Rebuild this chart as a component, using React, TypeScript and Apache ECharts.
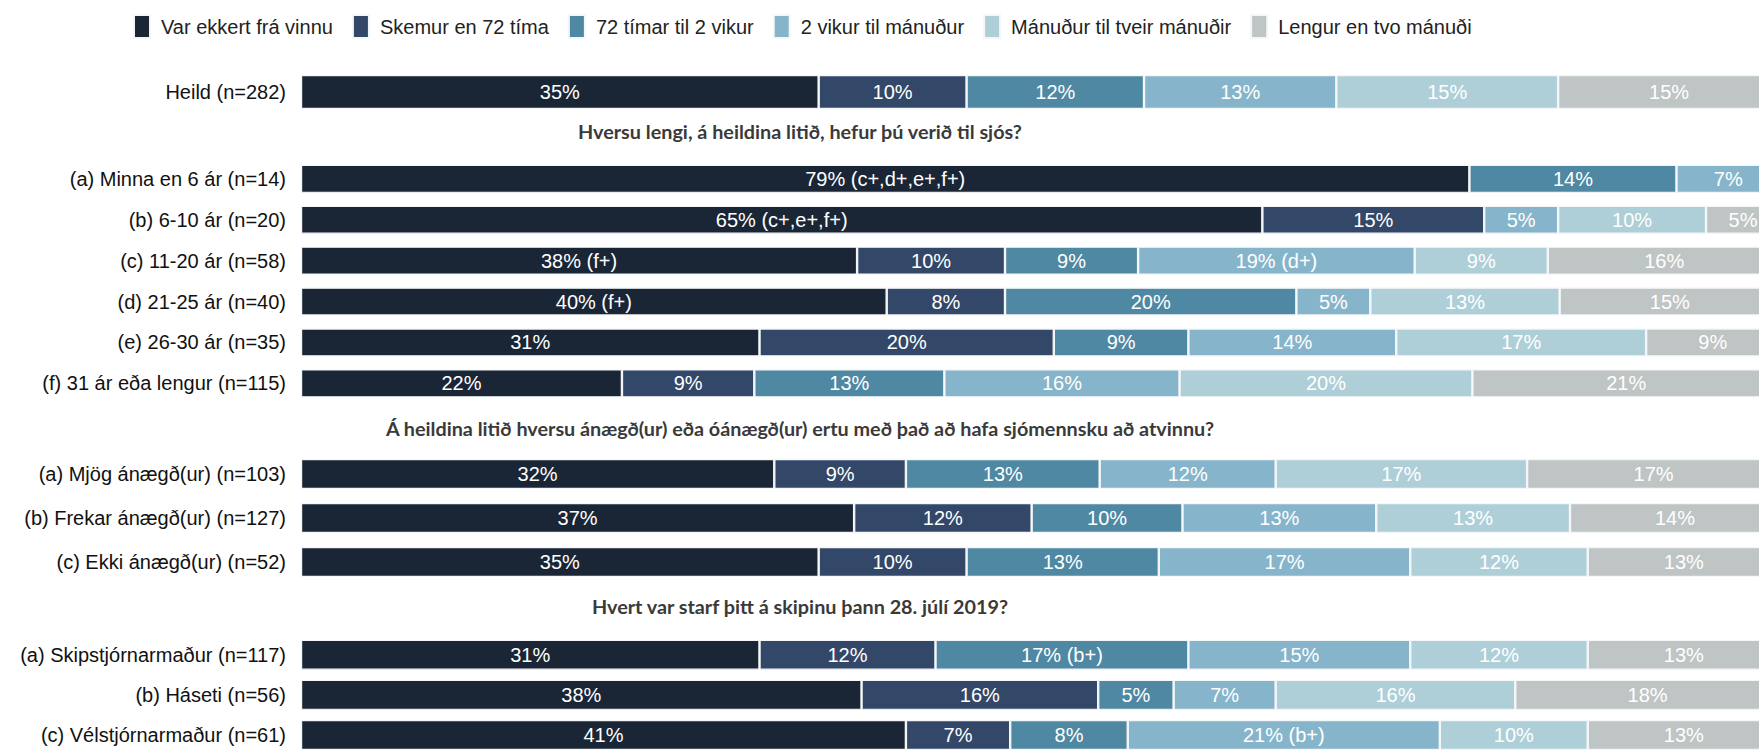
import React, { useEffect, useRef } from "react";
import * as echarts from "echarts";

const legendNames = [
  "Var ekkert frá vinnu",
  "Skemur en 72 tíma",
  "72 tímar til 2 vikur",
  "2 vikur til mánuður",
  "Mánuður til tveir mánuðir",
  "Lengur en tvo mánuði",
];
const colors = ["#1a2636", "#334768", "#4f88a2", "#86b5cb", "#aecfd8", "#bec5c4"];

const headers = [
  "Hversu lengi, á heildina litið, hefur þú verið til sjós?",
  "Á heildina litið hversu ánægð(ur) eða óánægð(ur) ertu með það að hafa sjómennsku að atvinnu?",
  "Hvert var starf þitt á skipinu þann 28. júlí 2019?",
];

// Group 0: total
const totalRows = ["Heild (n=282)"];
const totalValues = [[35, 10, 12, 13, 15, 15]];
const totalNotes = [["", "", "", "", "", ""]];

// Group 1: years at sea
const yearsRows = [
  "(a) Minna en 6 ár (n=14)",
  "(b) 6-10 ár (n=20)",
  "(c) 11-20 ár (n=58)",
  "(d) 21-25 ár (n=40)",
  "(e) 26-30 ár (n=35)",
  "(f) 31 ár eða lengur (n=115)",
];
const yearsValues = [
  [79, 0, 14, 7, 0, 0],
  [65, 15, 0, 5, 10, 5],
  [37.6, 10, 9, 18.7, 9, 15.8],
  [39.6, 8, 19.7, 5, 12.8, 14.9],
  [31, 19.9, 9.1, 14.05, 16.9, 9],
  [21.7, 8.95, 12.85, 15.9, 19.8, 20.8],
];
const yearsNotes = [
  [" (c+,d+,e+,f+)", "", "", "", "", ""],
  [" (c+,e+,f+)", "", "", "", "", ""],
  [" (f+)", "", "", " (d+)", "", ""],
  [" (f+)", "", "", "", "", ""],
  ["", "", "", "", "", ""],
  ["", "", "", "", "", ""],
];

// Group 2: satisfaction
const satRows = [
  "(a) Mjög ánægð(ur) (n=103)",
  "(b) Frekar ánægð(ur) (n=127)",
  "(c) Ekki ánægð(ur) (n=52)",
];
const satValues = [
  [32, 8.9, 13.1, 11.9, 17, 17.1],
  [37.4, 12, 10.2, 13.1, 13.1, 14.2],
  [35, 10, 13, 17, 12, 13],
];
const satNotes = [
  ["", "", "", "", "", ""],
  ["", "", "", "", "", ""],
  ["", "", "", "", "", ""],
];

// Group 3: job on ship
const jobRows = [
  "(a) Skipstjórnarmaður (n=117)",
  "(b) Háseti (n=56)",
  "(c) Vélstjórnarmaður (n=61)",
];
const jobValues = [
  [31, 11.9, 17.1, 15, 12, 13],
  [37.9, 16, 5.1, 6.9, 16.2, 17.9],
  [40.9, 7.05, 7.95, 21.1, 10, 13],
];
const jobNotes = [
  ["", "", " (b+)", "", "", ""],
  ["", "", "", "", "", ""],
  ["", "", "", " (b+)", "", ""],
];

const FONT = "'Liberation Sans', Arial, sans-serif";

export default function App() {
  const ref = useRef<HTMLDivElement>(null);
  useEffect(() => {
    if (!ref.current) return;
    const chart = echarts.init(ref.current, undefined, { renderer: "svg" });

    const groups = [
      { rows: totalRows, values: totalValues, notes: totalNotes, top: 72, height: 40, bw: 34 },
      { rows: yearsRows, values: yearsValues, notes: yearsNotes, top: 158.4, height: 245.4, bw: 28 },
      { rows: satRows, values: satValues, notes: satNotes, top: 452, height: 132, bw: 30 },
      { rows: jobRows, values: jobValues, notes: jobNotes, top: 634.7, height: 126, bw: 30 },
    ];

    const grid = groups.map((g) => ({ left: 301, width: 1479, top: g.top, height: g.height }));
    const xAxis = groups.map((_, i) => ({
      type: "value",
      gridIndex: i,
      min: 0,
      max: 100,
      show: false,
    }));
    const yAxis = groups.map((g, i) => ({
      type: "category",
      gridIndex: i,
      data: g.rows,
      inverse: true,
      axisLine: { show: false },
      axisTick: { show: false },
      axisLabel: { fontSize: 20, color: "#111", fontFamily: FONT, margin: 15 },
    }));

    const series: any[] = [];
    groups.forEach((g, gi) => {
      legendNames.forEach((name, k) => {
        series.push({
          type: "bar",
          name,
          stack: "s" + gi,
          xAxisIndex: gi,
          yAxisIndex: gi,
          barWidth: g.bw,
          itemStyle: { color: colors[k], borderColor: "#f4f6f7", borderWidth: 1.2 },
          label: {
            show: true,
            position: "inside",
            color: "#ffffff",
            fontSize: 20,
            fontFamily: FONT,
            formatter: (p: any) =>
              p.value > 0 ? Math.round(p.value) + "%" + g.notes[p.dataIndex][k] : "",
          },
          data: g.values.map((row) => row[k]),
        });
      });
    });

    chart.setOption({
      animation: false,
      legend: {
        data: legendNames,
        left: 128,
        top: 9,
        icon: "rect",
        itemWidth: 16,
        itemHeight: 23,
        itemGap: 19,
        textStyle: { fontSize: 20, color: "#222", fontFamily: FONT, padding: [0, 0, 0, 6] },
      },
      grid,
      xAxis,
      yAxis,
      series,
      graphic: [131, 428, 606].map((y, i) => ({
        type: "text",
        x: 800,
        y,
        style: {
          text: headers[i],
          fontSize: 19.8,
          fontWeight: "bold",
          fontFamily: "Lato, 'Noto Sans', sans-serif",
          fill: "#3a3a3a",
          textAlign: "center",
          textVerticalAlign: "middle",
        },
      })),
    });
    return () => chart.dispose();
  }, []);
  return (
    <div
      ref={ref}
      style={{ position: "fixed", left: 0, top: 0, width: 1780, height: 755, background: "#fff" }}
    />
  );
}
